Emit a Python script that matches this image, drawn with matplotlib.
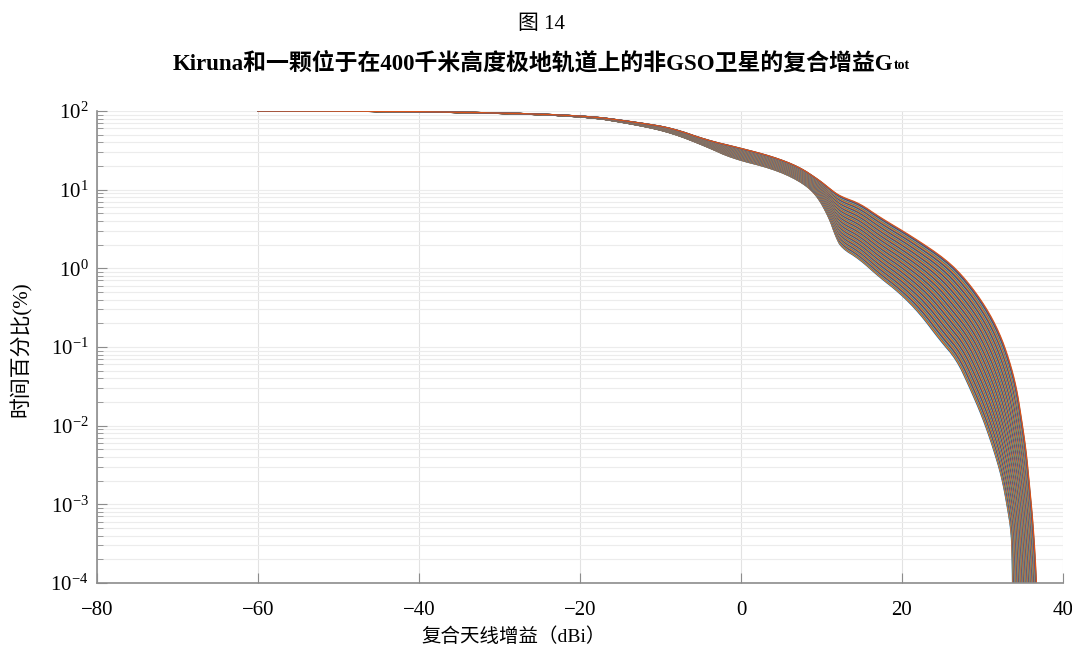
import numpy as np
import matplotlib
matplotlib.use('Agg')
import matplotlib.pyplot as plt

plt.rcParams['font.family'] = ['Liberation Serif', 'Noto Sans CJK SC', 'DejaVu Sans']
plt.rcParams['mathtext.fontset'] = 'custom'
plt.rcParams['mathtext.rm'] = 'Liberation Serif'
plt.rcParams['mathtext.it'] = 'Liberation Serif:italic'
plt.rcParams['mathtext.bf'] = 'Liberation Serif:bold'

# envelope of the curve bundle (x in dBi, log10 of % time)
upper_x = [-60, -40, -20, -12.6, -8.5, -4.3, -0.2, 3.9, 7.2, 9.7, 10.8, 11.8, 12.7, 14.8, 17.2,
           21.3, 25.5, 28.0, 30.4, 32.1, 33.3, 34.2, 34.8, 35.4, 35.8, 36.2, 36.5, 36.7, 36.75]
upper_logy = [2.00, 1.996, 1.95, 1.85, 1.78, 1.63, 1.53, 1.42, 1.29, 1.12, 1.03, 0.95, 0.90, 0.82, 0.65,
              0.40, 0.11, -0.15, -0.49, -0.82, -1.16, -1.51, -1.89, -2.31, -2.73, -3.16, -3.60, -4.0, -4.2]
lower_x = [-60, -40, -20, -12.6, -8.5, -4.3, -1.1, 3.9, 7.2, 9.3, 10.9, 11.8, 12.5, 14.7, 17.2,
           19.7, 22.2, 24.7, 26.8, 28.4, 30.0, 31.3, 32.4, 33.1, 33.6, 33.7, 33.72, 33.74, 33.75]
lower_logy = [2.00, 1.995, 1.945, 1.82, 1.72, 1.55, 1.40, 1.27, 1.12, 0.95, 0.66, 0.40, 0.26, 0.12, -0.11,
              -0.31, -0.57, -0.91, -1.16, -1.51, -1.89, -2.27, -2.65, -3.03, -3.36, -3.71, -3.85, -4.0, -4.2]

n_curves = 100
x_ticks = [-80, -60, -40, -20, 0, 20, 40]

matlab_colors = ['#0072BD', '#D95319', '#EDB120', '#7E2F8E', '#77AC30', '#4DBEEE', '#A2142F']


def chaikin(x, y, n_iter=2):
    # corner cutting, just to draw the read polyline as a smooth curve
    pts = np.column_stack([x, y])
    for _ in range(n_iter):
        q = 0.75 * pts[:-1] + 0.25 * pts[1:]
        r = 0.25 * pts[:-1] + 0.75 * pts[1:]
        mid = np.empty((2 * len(q), 2))
        mid[0::2] = q
        mid[1::2] = r
        pts = np.vstack([pts[:1], mid, pts[-1:]])
    return pts[:, 0], pts[:, 1]


fig = plt.figure(figsize=(10.72, 6.54), dpi=100)
ax = fig.add_axes([0.0905, 0.1086, 0.9011, 0.7217])

ux, uy = np.array(upper_x), np.array(upper_logy)
lx, ly = np.array(lower_x), np.array(lower_logy)
for k, w in enumerate(np.linspace(0, 1, n_curves)):
    cx, cy = chaikin(lx + w * (ux - lx), ly + w * (uy - ly))
    ax.plot(cx, 10 ** cy, color=matlab_colors[k % 7], lw=1.0)

ax.set_yscale('log')
ax.set_xlim(-80, 40)
ax.set_ylim(1e-4, 1e2)
ax.set_xticks(x_ticks)
ax.set_xticklabels([str(v).replace('-', '\u2212') for v in x_ticks])

ax.grid(True, which='major', axis='x', color='#e2e2e2', lw=0.8)
ax.grid(True, which='both', axis='y', color='#ececec', lw=0.8)
ax.set_axisbelow(True)

for s in ['top', 'right']:
    ax.spines[s].set_visible(False)
for s in ['left', 'bottom']:
    ax.spines[s].set_color('#8c8c8c')
    ax.spines[s].set_linewidth(1.2)
ax.tick_params(axis='both', which='both', direction='in', colors='#8c8c8c',
               labelcolor='black', labelsize=15)
ax.tick_params(axis='x', which='major', length=7, pad=13)
ax.tick_params(axis='y', which='major', length=7, pad=6)
ax.tick_params(axis='y', which='minor', length=4)

fig.text(0.505, 0.962, '图 14', ha='center', va='center', fontsize=15)
t = fig.text(0.497, 0.903, 'Kiruna和一颗位于在400千米高度极地轨道上的非GSO卫星的复合增益G',
             ha='center', va='center', fontsize=16.5, fontweight='bold')
ax.annotate('tot', xy=(1, 0), xycoords=t, xytext=(0.5, 2), textcoords='offset points',
            fontsize=10, fontweight='bold', ha='left', va='bottom', annotation_clip=False)

fig.text(0.479, 0.027, '复合天线增益（dBi）', ha='center', va='center', fontsize=14)
fig.text(0.019, 0.466, '时间百分比(%)', ha='center', va='center', fontsize=15, rotation=90)

fig.savefig('out.png', dpi=100)
